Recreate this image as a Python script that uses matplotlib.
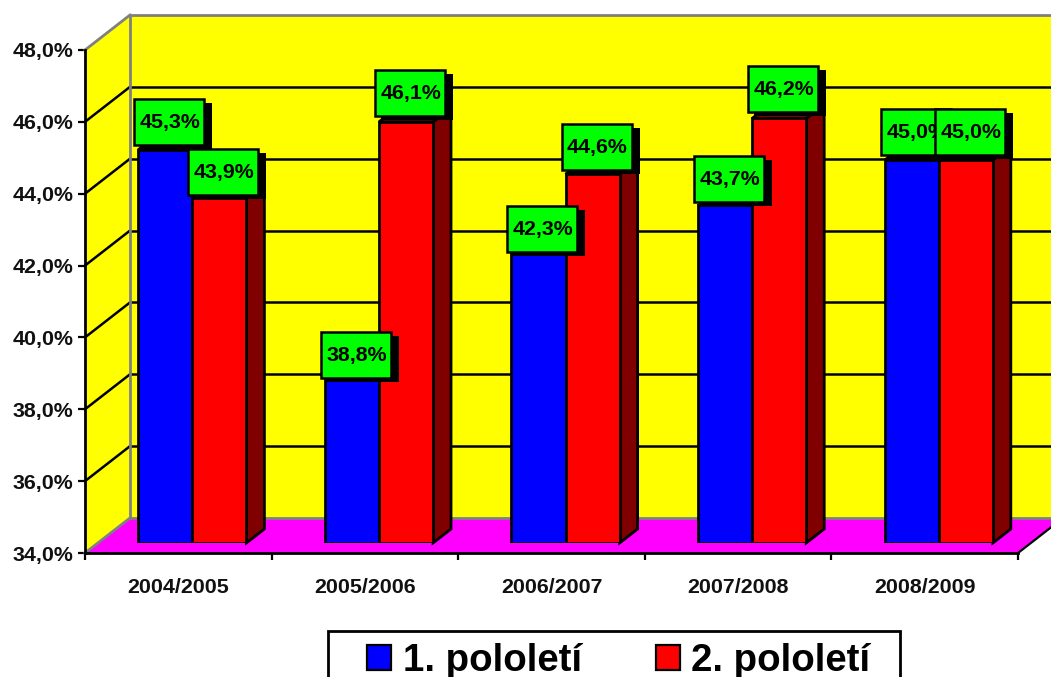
import matplotlib
matplotlib.use("Agg")
import matplotlib.pyplot as plt
import numpy as np
from matplotlib.patches import Patch, Polygon, Rectangle
from matplotlib.transforms import Affine2D, IdentityTransform

plt.rcParams['font.family'] = ['Liberation Sans', 'DejaVu Sans']
plt.rcParams['font.weight'] = 'bold'

skoly_roky = ["2004/2005", "2005/2006", "2006/2007", "2007/2008", "2008/2009"]
pololeti_1 = [45.3, 38.8, 42.3, 43.7, 45.0]
pololeti_2 = [43.9, 46.1, 44.6, 46.2, 45.0]
tiky = [34, 36, 38, 40, 42, 44, 46, 48]
W, H = 1051, 677


def rect_px(left, top, right, bottom):
    return [left / W, 1 - bottom / H, (right - left) / W, (bottom - top) / H]


fig = plt.figure(figsize=(W / 100, H / 100), dpi=100, facecolor="white")
ax = fig.add_axes(rect_px(85, 50, 1018, 553))
ax.set_xlim(0, 5)
ax.set_ylim(34, 48)
ax.patch.set_visible(False)

# zadni stena a podlaha, posunute o hloubku grafu
hloubka = Affine2D().translate(45, 35)
zada = ax.transData + hloubka
ax.add_patch(Polygon([(0, 34), (5, 34), (5, 48), (0, 48)], transform=zada, fc="#ffff00", ec="none", zorder=0, clip_on=False))
levy = ax.transData.transform([(0, 34), (0, 48)])
ax.add_patch(Polygon([levy[0], levy[1], levy[1] + (45, 35), levy[0] + (45, 35)], transform=IdentityTransform(),
                     fc="#ffff00", ec="none", zorder=0, clip_on=False))
spod = ax.transData.transform([(0, 34), (5, 34)])
ax.add_patch(Polygon([spod[0], spod[1], spod[1] + (45, 35), spod[0] + (45, 35)], transform=IdentityTransform(),
                     fc="#ff00ff", ec="none", zorder=1, clip_on=False))

for t in tiky[1:-1]:
    ax.plot([0, 5], [t, t], transform=zada, color="black", lw=1.8, zorder=1, clip_on=False)
    p = ax.transData.transform((0, t))
    ax.plot([p[0], p[0] + 45], [p[1], p[1] + 35], transform=IdentityTransform(), color="black", lw=1.8, zorder=1, clip_on=False)

# sede hrany steny
seda = "#808080"
ax.plot([0, 0, 5], [34, 48, 48], transform=zada, color=seda, lw=2, zorder=2, clip_on=False)
ax.plot([0, 5], [34, 34], transform=zada, color=seda, lw=2, zorder=2, clip_on=False)
ax.plot([levy[1][0], levy[1][0] + 45], [levy[1][1], levy[1][1] + 35], transform=IdentityTransform(), color=seda, lw=2, zorder=2, clip_on=False)
ax.plot([levy[0][0], levy[0][0] + 45], [levy[0][1], levy[0][1] + 35], transform=IdentityTransform(), color=seda, lw=2, zorder=2, clip_on=False)
ax.plot([spod[1][0], spod[1][0] + 45], [spod[1][1], spod[1][1] + 35], transform=IdentityTransform(), color="black", lw=1.6, zorder=2, clip_on=False)

for s in ["top", "right"]:
    ax.spines[s].set_visible(False)
for s in ["left", "bottom"]:
    ax.spines[s].set_linewidth(2)
    ax.spines[s].set_zorder(3)
ax.set_yticks(tiky)
ax.set_yticklabels([f"{t:.1f}%".replace(".", ",") for t in tiky], fontsize=15.4, fontweight="bold", color="#111111")
ax.set_xticks(range(6))
ax.set_xticklabels([])
ax.set_xticks(np.arange(5) + 0.5, labels=skoly_roky, minor=True, fontsize=15.4, fontweight="bold", color="#111111")
ax.tick_params(axis="both", which="major", length=5, width=1.6, pad=2)
ax.tick_params(axis="x", which="minor", length=0, pad=18)
ax.tick_params(axis="y", pad=3.5)

# sloupce maji vlastni osu, stoji pred zadni stenou
ax_bar = fig.add_axes(rect_px(99, 543 - 14 * 34.8, 1032, 543))
ax_bar.set_xlim(0, 5)
ax_bar.set_ylim(34, 48)
ax_bar.axis("off")
ax_bar.patch.set_visible(False)

x = np.arange(5) + 0.5
sirka = 0.29
ax_bar.bar(x - sirka / 2, np.array(pololeti_1) - 34, sirka, bottom=34, color="#0000ff", edgecolor="black", linewidth=2, zorder=3)
ax_bar.bar(x + sirka / 2, np.array(pololeti_2) - 34, sirka, bottom=34, color="#ff0000", edgecolor="black", linewidth=2, zorder=3)

d = np.array([18, 14])
for xi, v in zip(x, pololeti_2):
    a, b = ax_bar.transData.transform([(xi + sirka, 34), (xi + sirka, v)])
    ax_bar.add_patch(Polygon([a, b, b + d, a + d], transform=IdentityTransform(), fc="#800000", ec="black", lw=2, zorder=2, clip_on=False))
for xi, v1, v2 in zip(x, pololeti_1, pololeti_2):
    a, b = ax_bar.transData.transform([(xi - sirka, v1), (xi, v1)])
    ax_bar.add_patch(Polygon([a, b, b + d, a + d], transform=IdentityTransform(), fc="#000080", ec="black", lw=2, zorder=2, clip_on=False))
    a, b = ax_bar.transData.transform([(xi, v2), (xi + sirka, v2)])
    ax_bar.add_patch(Polygon([a, b, b + d, a + d], transform=IdentityTransform(), fc="#800000", ec="black", lw=2, zorder=2, clip_on=False))

# zelene popisky se stinem
ax_lab = fig.add_axes([0, 0, 1, 1])
ax_lab.axis("off")
ax_lab.set_xlim(0, W)
ax_lab.set_ylim(0, H)
ax_lab.patch.set_visible(False)


def popisek(stred, v, zo):
    px = ax_bar.transData.transform((stred, 34))[0] + 4
    py = ax.transData.transform((0, v))[1] + 25.5
    ax_lab.add_patch(Rectangle((px - 29, py - 27), 72, 46, fc="black", ec="none", zorder=zo))
    ax_lab.add_patch(Rectangle((px - 35, py - 23), 70, 46, fc="#00ff00", ec="black", lw=1.8, zorder=zo + 0.1))
    ax_lab.text(px + 1, py - 0.5, f"{v:.1f}%".replace(".", ","), ha="center", va="center", fontsize=15.4,
                fontweight="bold", color="black", zorder=zo + 0.2)


for i in range(5):
    popisek(x[i] - sirka / 2, pololeti_1[i], 10 + 2 * i)
    popisek(x[i] + sirka / 2, pololeti_2[i], 11 + 2 * i)

# ramecek legendy presahuje dolni okraj obrazku
ax_lab.add_patch(Rectangle((328, -20), 572, H - 631 + 20, fc="white", ec="black", lw=2, zorder=29, clip_on=False))
leg = fig.legend(handles=[Patch(fc="#0000ff", ec="black", lw=1.6, label="1. pololetí"),
                          Patch(fc="#ff0000", ec="black", lw=1.6, label="2. pololetí")],
                 loc="upper left", bbox_to_anchor=(350 / W, 1 - 626 / H), ncol=2, frameon=False,
                 borderaxespad=0, prop={"family": "Liberation Sans", "weight": "bold", "size": 27.6},
                 handlelength=0.63, handleheight=0.63, handletextpad=0.29, columnspacing=1.93, borderpad=0.45)
ax_lab.set_zorder(5)
leg.set_zorder(30)

fig.savefig("out.png", dpi=100)
